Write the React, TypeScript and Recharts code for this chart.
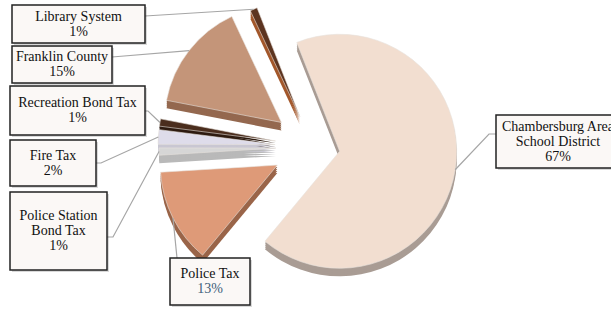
import { PieChart, Pie, Cell } from "recharts";

// categories (clockwise from the top), shares in %
const categories = [
  "Chambersburg Area\nSchool District",
  "Police Tax",
  "Police Station\nBond Tax",
  "Fire Tax",
  "Recreation Bond Tax",
  "Franklin County",
  "Library System",
];
const shares = [67, 13, 1, 2, 1, 15, 1];

const topColors = ["#F2DED0", "#DE9A78", "#D6D6D6", "#DEDCEA", "#4A2D1D", "#C49579", "#5C3420"];
const sideColors = ["#A99C94", "#9A6549", "#B9B9B9", "#C9C7D2", "#2E1B10", "#94684F", "#A3582C"];
const explode = [27, 40, 37, 38, 38, 40, 33];

// where each label box sits (x, y, w, h) and where its leader line leaves the box
const boxes = [
  { x: 496, y: 115, w: 124, h: 53, ax: 496, ay: 134, ex: 489, ey: 134 },
  { x: 170, y: 258, w: 80, h: 47, ax: 177, ay: 258, ex: 177, ey: 258 },
  { x: 10, y: 192, w: 97, h: 78, ax: 107, ay: 237, ex: 113, ey: 237 },
  { x: 10, y: 140, w: 86, h: 46, ax: 96, ay: 163, ex: 101, ey: 163 },
  { x: 10, y: 86, w: 135, h: 49, ax: 145, ay: 111, ex: 148, ey: 111 },
  { x: 12, y: 46, w: 100, h: 37, ax: 112, ay: 57, ex: 112, ey: 57 },
  { x: 12, y: 5, w: 133, h: 38, ax: 145, ay: 16, ex: 145, ey: 16 },
];

const data = categories.map((name, i) => ({ name, value: shares[i] }));

const W = 611;
const H = 310;
const CX = 313;
const CY = 147;
const R = 117;
const START = 111.5;
const RAD = Math.PI / 180;
const total = shares.reduce((a, b) => a + b, 0);

// push every slice out along its own middle angle
const offsets = shares.map((v, i) => {
  const before = shares.slice(0, i).reduce((a, b) => a + b, 0);
  const mid = START - ((before + v / 2) / total) * 360;
  return {
    dx: explode[i] * Math.cos(mid * RAD),
    dy: -explode[i] * Math.sin(mid * RAD),
  };
});

const depthLayers = [8, 6, 4, 2];

const FONT = "'Liberation Serif', 'Times New Roman', serif";

function renderLabel(props: any) {
  const { cx, cy, midAngle, outerRadius, index, value, name } = props;
  const b = boxes[index];
  const r = outerRadius + explode[index];
  const px = cx + r * Math.cos(-midAngle * RAD);
  const py = cy + r * Math.sin(-midAngle * RAD);
  const lines = [...String(name).split("\n"), `${value}%`];
  const lh = 15;
  const y0 = b.y + b.h / 2 - (lines.length * lh) / 2 + 11.5;
  return (
    <g key={`lbl-${index}`}>
      <polyline
        points={`${b.ax},${b.ay} ${b.ex},${b.ey} ${px},${py}`}
        fill="none"
        stroke="#A6A6A6"
        strokeWidth={1.2}
      />
      <rect x={b.x + 2} y={b.y + 2} width={b.w} height={b.h} fill="rgba(0,0,0,0.15)" />
      <rect x={b.x} y={b.y} width={b.w} height={b.h} fill="#FBF8F6" stroke="#222" strokeWidth={1.5} />
      {lines.map((t, k) => (
        <text
          key={k}
          x={b.x + b.w / 2}
          y={y0 + k * lh}
          textAnchor="middle"
          fontFamily={FONT}
          fontSize={14}
          fill={index === 1 && k === lines.length - 1 ? "#3F5F7A" : "#111"}
        >
          {t}
        </text>
      ))}
    </g>
  );
}

export default function App() {
  return (
    <div style={{ position: "absolute", left: 0, top: 0, width: W, height: H, background: "#fff" }}>
      <PieChart width={W} height={H} margin={{ top: 0, right: 0, bottom: 0, left: 0 }}>
        {depthLayers.map((d) => (
          <Pie
            key={`depth-${d}`}
            data={data}
            dataKey="value"
            nameKey="name"
            cx={CX}
            cy={CY + d}
            outerRadius={R}
            startAngle={START}
            endAngle={START - 360}
            stroke="none"
            isAnimationActive={false}
          >
            {data.map((_, i) => (
              <Cell
                key={`d-${d}-${i}`}
                fill={sideColors[i]}
                transform={`translate(${offsets[i].dx},${offsets[i].dy})`}
              />
            ))}
          </Pie>
        ))}
        <Pie
          data={data}
          dataKey="value"
          nameKey="name"
          cx={CX}
          cy={CY}
          outerRadius={R}
          startAngle={START}
          endAngle={START - 360}
          stroke="#E8E2DE"
          strokeWidth={0.6}
          label={renderLabel}
          labelLine={false}
          isAnimationActive={false}
        >
          {data.map((_, i) => (
            <Cell
              key={`c-${i}`}
              fill={topColors[i]}
              transform={`translate(${offsets[i].dx},${offsets[i].dy})`}
            />
          ))}
        </Pie>
      </PieChart>
    </div>
  );
}
